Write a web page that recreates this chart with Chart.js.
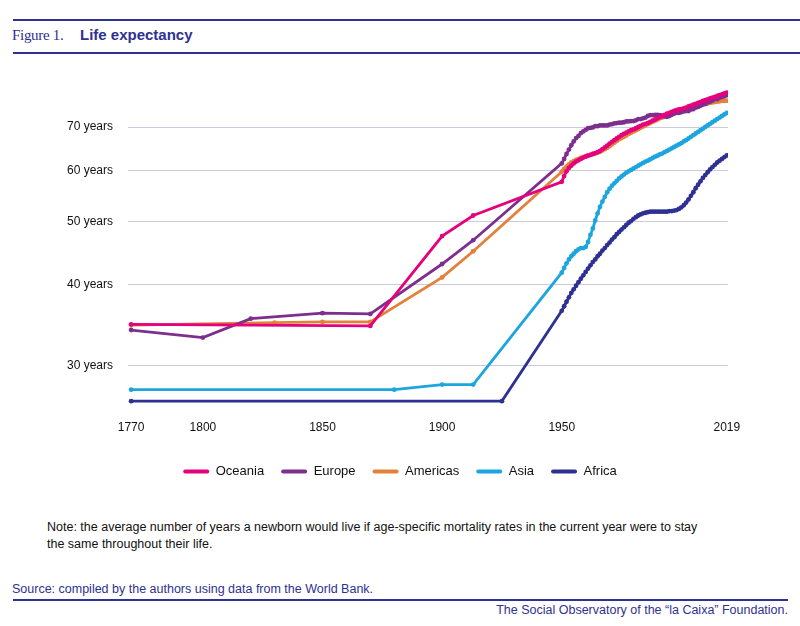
<!DOCTYPE html>
<html>
<head>
<meta charset="utf-8">
<script src="https://cdn.jsdelivr.net/npm/chart.js@4/dist/chart.umd.min.js"></script>
<style>
  body { margin: 0; width: 800px; height: 626px; background: #fff; position: relative; overflow: hidden; font-family: "Liberation Sans", Arial, sans-serif; }
  .rule { position: absolute; left: 13px; height: 2px; background: #2e3192; }
  #fig { position: absolute; left: 12px; top: 27px; font: 15px "Liberation Serif", serif; color: #2e3192; letter-spacing: -0.3px; }
  #title { position: absolute; left: 80px; top: 26px; font: bold 15px "Liberation Sans", Arial, sans-serif; color: #2e3192; }
  #chartBox { position: absolute; left: 0; top: 60px; width: 800px; height: 428px; }
  #note { position: absolute; left: 47px; top: 519px; width: 668px; font-size: 12.5px; line-height: 17px; color: #111; }
  #source { position: absolute; left: 12px; top: 582px; font-size: 12.5px; color: #2e3192; }
  #credit { position: absolute; right: 12px; top: 603px; font-size: 12.5px; color: #2e3192; }
</style>
</head>
<body>
<div class="rule" style="top:19px; width:787px;"></div>
<div id="fig">Figure 1.</div>
<div id="title">Life expectancy</div>
<div class="rule" style="top:52px; width:787px;"></div>

<div id="chartBox"><canvas id="lifeChart"></canvas></div>

<div id="note">Note: the average number of years a newborn would live if age-specific mortality rates in the current year were to stay the same throughout their life.</div>
<div id="source">Source: compiled by the authors using data from the World Bank.</div>
<div class="rule" style="top:599px; width:775px;"></div>
<div id="credit">The Social Observatory of the “la Caixa” Foundation.</div>

<script>
// historical estimates (sparse years)
const oceaniaEarlyYears = [1770, 1870, 1900, 1913];
const oceaniaEarly = [34.7, 34.5, 47.5, 51.1];
const europeEarlyYears = [1770, 1800, 1820, 1850, 1870, 1900, 1913];
const europeEarly = [34.0, 33.1, 35.4, 36.1, 36.0, 43.0, 46.8];
const americasEarlyYears = [1770, 1830, 1850, 1870, 1900, 1913];
const americasEarly = [34.6, 34.9, 35.0, 35.0, 41.0, 45.0];
const asiaEarlyYears = [1770, 1880, 1900, 1913];
const asiaEarly = [27.5, 27.5, 28.0, 28.0];
const africaEarlyYears = [1770, 1925];
const africaEarly = [26.4, 26.4];

// yearly values 1950 - 2019
const modernYears = Array.from({ length: 70 }, (_, i) => 1950 + i);

const oceania = [
  57.6, 58.8, 59.8, 60.5, 61.0, 61.5, 61.9, 62.2, 62.5, 62.8,
  63.0, 63.2, 63.4, 63.6, 63.8, 64.0, 64.3, 64.7, 65.1, 65.5,
  66.0, 66.4, 66.8, 67.2, 67.6, 68.0, 68.3, 68.6, 68.9, 69.2,
  69.4, 69.7, 70.0, 70.3, 70.6, 70.8, 71.0, 71.3, 71.6, 71.9,
  72.2, 72.5, 72.8, 73.1, 73.4, 73.6, 73.9, 74.1, 74.3, 74.5,
  74.6, 74.8, 75.0, 75.3, 75.5, 75.8, 76.0, 76.3, 76.5, 76.8,
  77.0, 77.2, 77.5, 77.7, 77.9, 78.2, 78.4, 78.6, 78.9, 79.1
];
const europe = [
  61.5, 62.5, 63.6, 64.6, 65.6, 66.5, 67.3, 67.8, 68.5, 68.9,
  69.3, 69.7, 69.8, 69.9, 70.2, 70.2, 70.4, 70.4, 70.4, 70.4,
  70.6, 70.7, 70.9, 71.0, 71.1, 71.1, 71.2, 71.4, 71.4, 71.5,
  71.5, 71.7, 72.0, 72.0, 72.2, 72.4, 72.8, 73.0, 73.0, 73.1,
  73.1, 73.0, 72.9, 72.7, 72.6, 72.8, 73.1, 73.4, 73.6, 73.6,
  73.8, 74.0, 74.1, 74.1, 74.5, 74.6, 75.0, 75.2, 75.5, 75.8,
  76.0, 76.4, 76.6, 76.9, 77.3, 77.3, 77.7, 77.9, 78.1, 78.4
];
const americas = [
  59.7, 60.3, 60.8, 61.3, 61.7, 62.0, 62.3, 62.5, 62.7, 62.9,
  63.1, 63.3, 63.4, 63.6, 63.7, 63.9, 64.1, 64.4, 64.7, 65.0,
  65.4, 65.8, 66.2, 66.6, 67.0, 67.3, 67.6, 67.9, 68.3, 68.6,
  68.9, 69.2, 69.5, 69.8, 70.1, 70.4, 70.7, 71.0, 71.3, 71.6,
  71.9, 72.2, 72.4, 72.7, 73.0, 73.2, 73.5, 73.7, 73.9, 74.1,
  74.3, 74.5, 74.7, 74.9, 75.1, 75.3, 75.4, 75.6, 75.7, 75.9,
  76.0, 76.1, 76.3, 76.4, 76.5, 76.6, 76.7, 76.8, 76.8, 76.9
];
const asia = [
  41.7, 42.4, 43.1, 43.7, 44.2, 44.6, 45.0, 45.3, 45.5, 45.5,
  45.7, 46.5, 47.7, 48.8, 50.2, 51.5, 52.7, 53.7, 54.6, 55.5,
  56.2, 56.8, 57.3, 57.8, 58.3, 58.7, 59.1, 59.5, 59.8, 60.1,
  60.4, 60.7, 61.0, 61.3, 61.6, 61.9, 62.1, 62.4, 62.7, 63.0,
  63.2, 63.5, 63.7, 64.0, 64.3, 64.6, 64.9, 65.2, 65.5, 65.8,
  66.1, 66.5, 66.8, 67.2, 67.6, 68.0, 68.4, 68.8, 69.2, 69.6,
  70.0, 70.4, 70.8, 71.2, 71.6, 72.0, 72.4, 72.8, 73.2, 73.6
];
const africa = [
  36.4, 37.0, 37.6, 38.2, 38.8, 39.3, 39.8, 40.3, 40.8, 41.3,
  41.8, 42.3, 42.8, 43.3, 43.7, 44.2, 44.6, 45.1, 45.5, 46.0,
  46.4, 46.9, 47.3, 47.8, 48.2, 48.6, 49.0, 49.4, 49.8, 50.1,
  50.5, 50.8, 51.1, 51.3, 51.5, 51.6, 51.7, 51.8, 51.8, 51.8,
  51.8, 51.8, 51.8, 51.8, 51.8, 51.9, 51.9, 52.0, 52.1, 52.3,
  52.6, 53.0, 53.5, 54.1, 54.8, 55.5, 56.3, 57.0, 57.7, 58.4,
  59.0, 59.6, 60.2, 60.7, 61.2, 61.7, 62.1, 62.5, 62.9, 63.3
];

const xTicks = [1770, 1800, 1850, 1900, 1950, 2019];
const yTicks = [30, 40, 50, 60, 70];

// join the sparse years and the yearly series into {x, y} points
function points(earlyYears, earlyValues, values) {
  const pts = earlyYears.map((yr, i) => ({ x: yr, y: earlyValues[i] }));
  modernYears.forEach((yr, i) => pts.push({ x: yr, y: values[i] }));
  return pts;
}

function series(label, color, data) {
  return {
    label: label,
    data: data,
    borderColor: color,
    backgroundColor: color,
    borderWidth: 2.8,
    pointRadius: 2.4,
    pointBorderWidth: 0,
    pointHoverRadius: 2.4,
    tension: 0
  };
}

const ctx = document.getElementById('lifeChart').getContext('2d');

new Chart(ctx, {
  type: 'line',
  data: {
    datasets: [
      series('Oceania', '#e5007d', points(oceaniaEarlyYears, oceaniaEarly, oceania)),
      series('Europe', '#7d2f8e', points(europeEarlyYears, europeEarly, europe)),
      series('Americas', '#e3803a', points(americasEarlyYears, americasEarly, americas)),
      series('Asia', '#1da5df', points(asiaEarlyYears, asiaEarly, asia)),
      series('Africa', '#2e3192', points(africaEarlyYears, africaEarly, africa))
    ]
  },
  options: {
    responsive: true,
    maintainAspectRatio: false,
    animation: false,
    layout: { padding: { top: 20, right: 0, left: 0, bottom: 0 } },
    plugins: {
      tooltip: { enabled: false },
      legend: {
        position: 'bottom',
        labels: {
          boxWidth: 26,
          boxHeight: 4,
          padding: 17,
          color: '#111',
          font: { family: '"Liberation Sans", Arial, sans-serif', size: 13 },
          generateLabels: (chart) =>
            Chart.defaults.plugins.legend.labels.generateLabels(chart).map(l => ({ ...l, lineWidth: 0, borderRadius: 2 }))
        }
      }
    },
    scales: {
      x: {
        type: 'linear',
        min: 1768.7,
        max: 2019.5,
        afterBuildTicks: (scale) => { scale.ticks = xTicks.map(v => ({ value: v })); },
        afterFit: (scale) => { scale.height = 36; },
        grid: { display: false, drawTicks: false },
        border: { display: false },
        ticks: {
          padding: 8,
          color: '#111',
          font: { family: '"Liberation Sans", Arial, sans-serif', size: 12 },
          callback: (v) => String(v)
        }
      },
      y: {
        type: 'logarithmic',
        min: 25.4,
        max: 82.1,
        afterBuildTicks: (scale) => { scale.ticks = yTicks.map(v => ({ value: v })); },
        afterFit: (scale) => { scale.width = 128; },
        grid: { color: '#cdc9e0', lineWidth: 1, drawTicks: false },
        border: { display: false },
        ticks: {
          padding: 15,
          color: '#111',
          font: { family: '"Liberation Sans", Arial, sans-serif', size: 12 },
          callback: (v) => v + ' years'
        }
      },
      // empty right-hand margin so the legend centres on the whole figure
      spacer: {
        type: 'linear',
        position: 'right',
        afterFit: (scale) => { scale.width = 72; },
        grid: { display: false, drawTicks: false },
        border: { display: false },
        ticks: { display: false }
      }
    }
  }
});
</script>
</body>
</html>
